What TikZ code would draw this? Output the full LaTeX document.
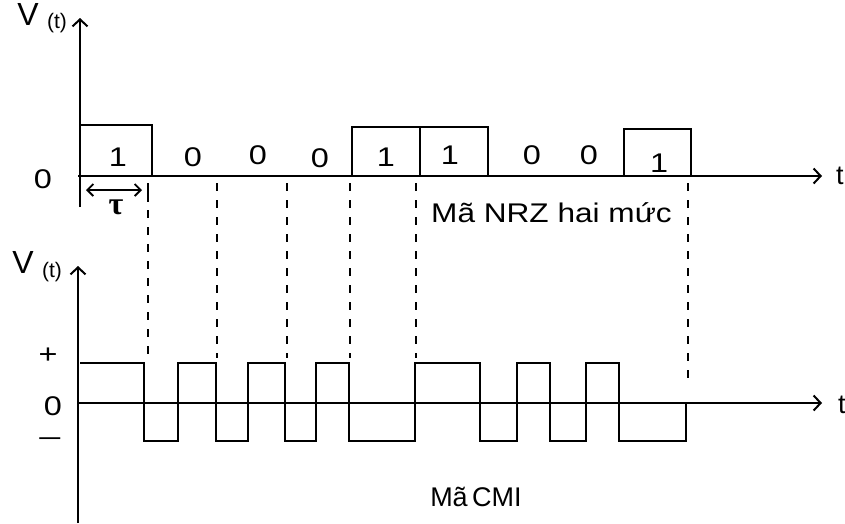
\documentclass[tikz,border=0pt]{standalone}
\usepackage{fontspec}
\usepackage{graphicx}
\setmainfont{Liberation Sans}
\newfontfamily\greekfont{Liberation Serif}
\usetikzlibrary{arrows.meta}
\newcommand{\widetxt}[1]{\scalebox{1.2}[1]{#1}}
\tikzset{
  axis/.style={line width=2.3pt, -{Straight Barb[length=7pt,width=15pt,line width=2pt]}},
  wave/.style={line width=2.3pt, line join=miter},
  guide/.style={line width=2.3pt, dash pattern=on 8pt off 9pt},
  lbl/.style={inner sep=0pt, font=\fontsize{27}{30}\selectfont},
  vlbl/.style={inner sep=0pt, font=\fontsize{32}{36}\selectfont},
  tlbl/.style={inner sep=0pt, font=\fontsize{21}{24}\selectfont},
}
\begin{document}
\begin{tikzpicture}[x=1pt,y=-1pt]
\useasboundingbox (0,0) rectangle (845,523);
% ---- top graph (NRZ) ----
\coordinate (ta0) at (80,207);
\coordinate (ta1) at (80,18);
\coordinate (th0) at (78,176);
\coordinate (th1) at (822,176);
\draw[axis] (ta0) -- (ta1);
\draw[axis] (th0) -- (th1);
\draw[wave] (80,176) -- (80,125) -- (152,125) -- (152,176);
\draw[wave] (352,176) -- (352,127) -- (488,127) -- (488,176);
\draw[wave] (420,127) -- (420,176);
\draw[wave] (624,176) -- (624,129) -- (691,129) -- (691,176);
\node[vlbl] (v1) at (28,14) {V};
\node[tlbl] (v1t) at (57,23) {(t)};
\node[lbl] (z1) at (43,179) {\widetxt{0}};
\node[lbl, anchor=west] (t1) at (836,176) {t};
\node[lbl] (b1) at (118,157) {\widetxt{1}};
\node[lbl] (b2) at (193,157) {\widetxt{0}};
\node[lbl] (b3) at (258,155) {\widetxt{0}};
\node[lbl] (b4) at (320,158) {\widetxt{0}};
\node[lbl] (b5) at (386,157) {\widetxt{1}};
\node[lbl] (b6) at (450,155) {\widetxt{1}};
\node[lbl] (b7) at (532,155) {\widetxt{0}};
\node[lbl] (b8) at (589,155) {\widetxt{0}};
\node[lbl] (b9) at (659,163) {\widetxt{1}};
% tau
\coordinate (tauL) at (86,190);
\coordinate (tauR) at (142,190);
\coordinate (tk0) at (148,183);
\coordinate (tk1) at (148,202);
\draw[line width=1.8pt, {Straight Barb[length=6pt,width=12pt]}-{Straight Barb[length=6pt,width=12pt]}] (tauL) -- (tauR);
\draw[line width=2.3pt] (tk0) -- (tk1);
\node[inner sep=0pt, font=\greekfont\bfseries\fontsize{32}{34}\selectfont] (tau) at (116,207) {τ};
\node[lbl, anchor=west] (nrz) at (431,213) {\scalebox{1.17}[1]{Mã NRZ hai mức}};
% ---- dashed guides ----
\draw[guide] (148,210) -- (148,355);
\foreach \x/\e in {217/358, 287/358, 350/358, 416/358, 688/385} {
  \draw[guide] (\x,183) -- (\x,\e);
}
% ---- bottom graph (CMI) ----
\coordinate (ba0) at (78,523);
\coordinate (ba1) at (78,266);
\coordinate (bh0) at (78,403);
\coordinate (bh1) at (822,403);
\draw[axis] (ba0) -- (ba1);
\draw[axis] (bh0) -- (bh1);
\draw[wave] (80,363) -- (144,363) -- (144,441) -- (178,441) -- (178,363)
  -- (216,363) -- (216,441) -- (248,441) -- (248,363)
  -- (285,363) -- (285,441) -- (316,441) -- (316,363)
  -- (349,363) -- (349,441) -- (415,441) -- (415,363)
  -- (480,363) -- (480,441) -- (517,441) -- (517,363)
  -- (550,363) -- (550,441) -- (586,441) -- (586,363)
  -- (619,363) -- (619,441) -- (686,441) -- (686,403);
\node[vlbl] (v2) at (23,262) {V};
\node[tlbl] (v2t) at (52,272) {(t)};
\node[lbl] (plus) at (48,356) {\widetxt{+}};
\node[lbl] (z2) at (53,406) {\widetxt{0}};
\node[lbl] (minus) at (50,442) {\scalebox{1.4}[1]{–}};
\node[lbl, anchor=west] (t2) at (838,405) {t};
\node[lbl] (cmi) at (476,497) {Mã\,CMI};
\end{tikzpicture}
\end{document}
